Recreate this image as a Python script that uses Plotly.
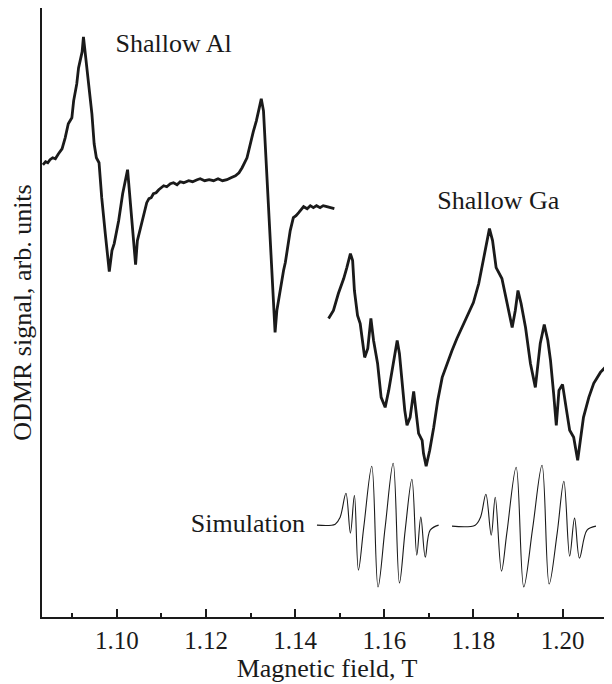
import plotly.graph_objects as go

# experimental ODMR trace, low-field part (Shallow Al)
field_al = [1.0834, 1.0840, 1.0845, 1.0850, 1.0856, 1.0862, 1.0869, 1.0873, 1.0877, 1.0884,
            1.0891, 1.0895, 1.0899, 1.0903, 1.0907, 1.0910, 1.0914, 1.0919, 1.0922, 1.0925,
            1.0929, 1.0936, 1.0944, 1.0949, 1.0954, 1.0960, 1.0966, 1.0974, 1.0983, 1.0989,
            1.0994, 1.1004, 1.1013, 1.1024, 1.1031, 1.1042, 1.1046, 1.1051, 1.1056, 1.1061,
            1.1067, 1.1072, 1.1077, 1.1082, 1.1088, 1.1094, 1.1100, 1.1105, 1.1112, 1.1120,
            1.1127, 1.1135, 1.1142, 1.1150, 1.1161, 1.1170, 1.1180, 1.1187, 1.1197, 1.1207,
            1.1217, 1.1227, 1.1237, 1.1247, 1.1256, 1.1266, 1.1274, 1.1281, 1.1292, 1.1301,
            1.1306, 1.1313, 1.1318, 1.1324, 1.1329, 1.1335, 1.1343, 1.1349, 1.1355, 1.1359,
            1.1367, 1.1374, 1.1378, 1.1382, 1.1386, 1.1389, 1.1396, 1.1402, 1.1408, 1.1414,
            1.1419, 1.1427, 1.1434, 1.1441, 1.1448, 1.1456, 1.1463, 1.1471, 1.1480, 1.1488]
signal_al = [4.53, 4.56, 4.55, 4.58, 4.60, 4.59, 4.64, 4.66, 4.69, 4.80,
             4.94, 4.97, 5.00, 5.17, 5.25, 5.34, 5.50, 5.60, 5.66, 5.81,
             5.64, 5.40, 5.04, 4.74, 4.60, 4.55, 4.20, 3.84, 3.46, 3.67,
             3.74, 3.97, 4.24, 4.48, 4.10, 3.53, 3.77, 3.86, 3.97, 4.07,
             4.15, 4.19, 4.20, 4.24, 4.25, 4.28, 4.30, 4.32, 4.31, 4.34,
             4.35, 4.33, 4.36, 4.35, 4.37, 4.36, 4.38, 4.39, 4.37, 4.38,
             4.37, 4.39, 4.37, 4.38, 4.40, 4.42, 4.45, 4.50, 4.60, 4.79,
             4.86, 4.97, 5.08, 5.19, 5.07, 4.54, 3.87, 3.30, 2.85, 3.07,
             3.30, 3.47, 3.55, 3.67, 3.74, 3.87, 4.00, 4.02, 4.05, 4.09,
             4.11, 4.09, 4.12, 4.10, 4.12, 4.10, 4.12, 4.11, 4.10, 4.09]

# experimental ODMR trace, high-field part (Shallow Ga)
field_ga = [1.1475, 1.1486, 1.1497, 1.1509, 1.1516, 1.1524, 1.1529, 1.1533, 1.1540, 1.1546,
            1.1551, 1.1556, 1.1563, 1.1570, 1.1576, 1.1585, 1.1593, 1.1602, 1.1610, 1.1617,
            1.1622, 1.1629, 1.1634, 1.1641, 1.1646, 1.1651, 1.1658, 1.1666, 1.1671, 1.1677,
            1.1685, 1.1688, 1.1694, 1.1702, 1.1711, 1.1720, 1.1730, 1.1741, 1.1752, 1.1763,
            1.1771, 1.1786, 1.1800, 1.1812, 1.1823, 1.1831, 1.1836, 1.1843, 1.1851, 1.1864,
            1.1875, 1.1887, 1.1894, 1.1900, 1.1907, 1.1917, 1.1928, 1.1939, 1.1950, 1.1959,
            1.1967, 1.1973, 1.1980, 1.1986, 1.1992, 1.2000, 1.2009, 1.2016, 1.2025, 1.2034,
            1.2040, 1.2047, 1.2059, 1.2070, 1.2085, 1.2100, 1.2109, 1.2115]
signal_ga = [2.99, 3.07, 3.24, 3.39, 3.50, 3.64, 3.57, 3.27, 3.02, 2.94,
             2.77, 2.60, 2.69, 2.99, 2.77, 2.54, 2.20, 2.10, 2.27, 2.44,
             2.60, 2.77, 2.64, 2.27, 2.07, 1.92, 2.00, 2.26, 2.07, 1.84,
             1.77, 1.64, 1.51, 1.67, 1.90, 2.17, 2.40, 2.54, 2.67, 2.79,
             2.87, 3.01, 3.15, 3.34, 3.60, 3.77, 3.89, 3.77, 3.50, 3.39,
             3.14, 2.90, 3.07, 3.27, 3.14, 2.90, 2.54, 2.30, 2.74, 2.93,
             2.77, 2.57, 2.24, 1.92, 2.27, 2.33, 2.07, 1.87, 1.80, 1.57,
             1.77, 2.00, 2.20, 2.34, 2.45, 2.52, 2.52, 2.52]

# simulated spectra
field_sim1 = [1.1449, 1.1490, 1.1501, 1.1514, 1.1524, 1.1533, 1.1542, 1.1554, 1.1572, 1.1586,
              1.1602, 1.1620, 1.1634, 1.1647, 1.1662, 1.1673, 1.1682, 1.1692, 1.1703, 1.1722]
signal_sim1 = [0.92, 0.93, 1.00, 1.24, 0.84, 1.22, 0.47, 0.90, 1.51, 0.30,
               0.90, 1.54, 0.34, 0.87, 1.38, 0.62, 1.00, 0.60, 0.87, 0.92]

field_sim2 = [1.1752, 1.1804, 1.1816, 1.1828, 1.1840, 1.1849, 1.1863, 1.1875, 1.1896, 1.1913,
              1.1933, 1.1954, 1.1970, 1.1988, 1.2003, 1.2016, 1.2027, 1.2038, 1.2055, 1.2075]
signal_sim2 = [0.91, 0.92, 1.00, 1.23, 0.82, 1.20, 0.46, 0.84, 1.50, 0.30,
               0.89, 1.52, 0.33, 0.84, 1.36, 0.61, 0.99, 0.59, 0.87, 0.91]

# in-plot labels
label_text = ["Shallow Al", "Shallow Ga", "Simulation"]
label_field = [1.0997, 1.1719, 1.1422]
label_signal = [5.72, 4.15, 0.92]

INK = "#1a1a1a"
SERIF = "Liberation Serif"
TXT = dict(family=SERIF, size=26, color=INK)

fig = go.Figure()
for x, y in [(field_al, signal_al), (field_ga, signal_ga)]:
    fig.add_trace(go.Scatter(x=x, y=y, mode="lines",
                             line=dict(color=INK, width=2.8), showlegend=False))
for x, y in [(field_sim1, signal_sim1), (field_sim2, signal_sim2)]:
    fig.add_trace(go.Scatter(x=x, y=y, mode="lines",
                             line=dict(color=INK, width=1.1, shape="spline", smoothing=1.0),
                             showlegend=False))

fig.add_trace(go.Scatter(x=label_field, y=label_signal, mode="text", text=label_text,
                         textposition=["middle right", "middle right", "middle left"],
                         textfont=TXT, showlegend=False, hoverinfo="skip"))

# page body has an 8px margin, so the figure is sized/offset to land on the 612x684 window
fig.update_layout(
    width=604, height=676,
    margin=dict(l=34, r=0, t=0, b=67),
    paper_bgcolor="white", plot_bgcolor="white",
    font=TXT,
    xaxis=dict(range=[1.0832, 1.2111], dtick=0.02, tick0=1.0, tickformat=".2f",
               tickfont=dict(family=SERIF, size=25, color=INK),
               ticks="inside", ticklen=8, tickwidth=1.5, tickcolor=INK,
               minor=dict(dtick=0.01, ticks="inside", ticklen=4, tickwidth=1.5, tickcolor=INK),
               showline=True, linewidth=2, linecolor=INK, mirror=True,
               showgrid=False, zeroline=False, automargin=False,
               title=dict(text="Magnetic field, T", font=TXT, standoff=2)),
    yaxis=dict(range=[0, 6.10], showticklabels=False, ticks="",
               showline=True, linewidth=2, linecolor=INK,
               showgrid=False, zeroline=False, automargin=False,
               title=dict(text="ODMR signal, arb. units", font=TXT, standoff=14)),
)

fig.write_html("out.html")
